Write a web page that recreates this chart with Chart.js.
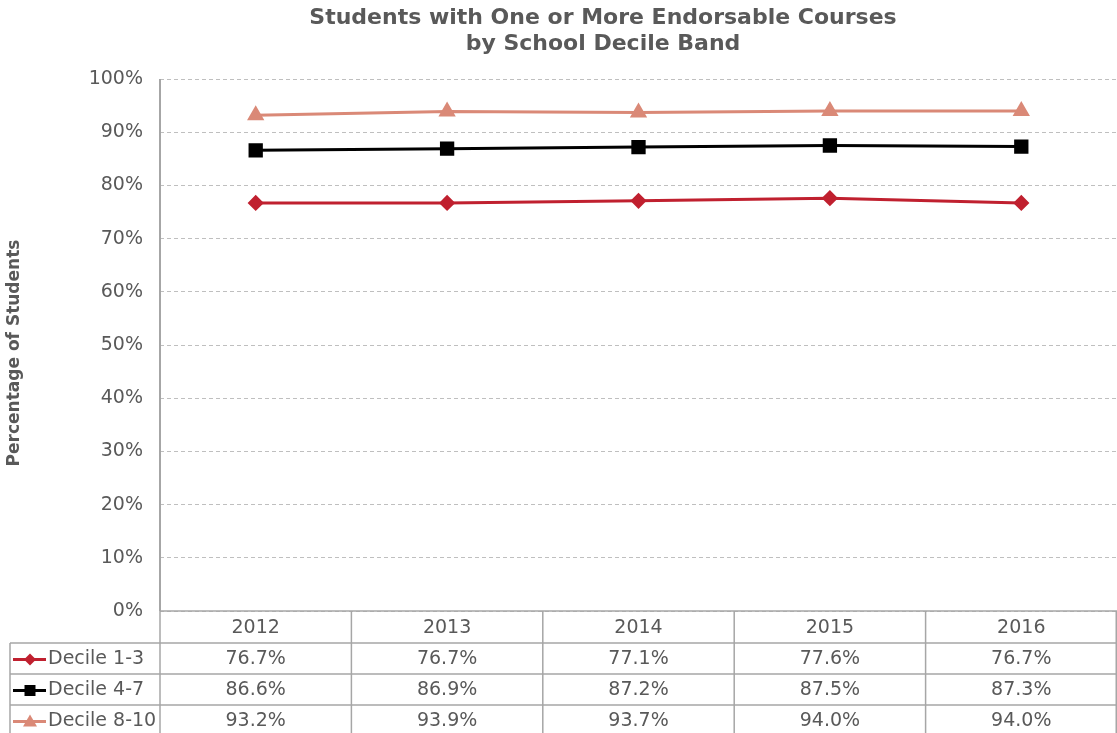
<!DOCTYPE html>
<html>
<head>
<meta charset="utf-8">
<script src="https://cdn.jsdelivr.net/npm/chart.js@4/dist/chart.umd.min.js"></script>
<style>
  body { margin: 0; background: #fff; }
  #wrap { width: 1117px; height: 733px; position: relative; }
</style>
</head>
<body>
<div id="wrap"><canvas id="grafico"></canvas></div>
<script>
var anos = ['2012', '2013', '2014', '2015', '2016'];
var decil13 = [76.7, 76.7, 77.1, 77.6, 76.7];
var decil47 = [86.6, 86.9, 87.2, 87.5, 87.3];
var decil810 = [93.2, 93.9, 93.7, 94.0, 94.0];
var nomesSeries = ['Decile 1-3', 'Decile 4-7', 'Decile 8-10'];
var ticksY = [0, 10, 20, 30, 40, 50, 60, 70, 80, 90, 100];
var titulo = ['Students with One or More Endorsable Courses', 'by School Decile Band'];

var cinza = '#595959';
var borda = '#A6A6A6';
var fonte = 'DejaVu Sans, Verdana, sans-serif';

function marcador(ctx, estilo, x, y, cor) {
  ctx.save();
  ctx.fillStyle = cor;
  ctx.beginPath();
  if (estilo === 'rectRot') {
    ctx.moveTo(x, y - 6); ctx.lineTo(x + 6, y); ctx.lineTo(x, y + 6); ctx.lineTo(x - 6, y);
  } else if (estilo === 'rect') {
    ctx.rect(x - 5.5, y - 5.5, 11, 11);
  } else {
    ctx.moveTo(x, y - 7); ctx.lineTo(x + 7, y + 5); ctx.lineTo(x - 7, y + 5);
  }
  ctx.closePath();
  ctx.fill();
  ctx.restore();
}

// titulo, eixo Y solido e titulo do eixo (desenhados a mao)
var eixoPlugin = {
  id: 'eixo',
  beforeDatasetsDraw: function (chart) {
    var ctx = chart.ctx;
    var area = chart.chartArea;
    ctx.save();
    ctx.strokeStyle = borda;
    ctx.lineWidth = 2;
    ctx.beginPath();
    ctx.moveTo(area.left, area.top);
    ctx.lineTo(area.left, area.bottom);
    ctx.stroke();

    ctx.fillStyle = cinza;
    ctx.textAlign = 'center';
    ctx.textBaseline = 'middle';
    ctx.font = 'bold 22px ' + fonte;
    ctx.fillText(titulo[0], 603, 18);
    ctx.fillText(titulo[1], 603, 44);

    ctx.translate(15, 353);
    ctx.rotate(-Math.PI / 2);
    ctx.font = 'bold 17px ' + fonte;
    ctx.fillText('Percentage of Students', 0, 0);
    ctx.restore();
  }
};

// desenha a tabela de dados embaixo do grafico
var tabelaPlugin = {
  id: 'tabela',
  afterDraw: function (chart) {
    var ctx = chart.ctx;
    var area = chart.chartArea;
    var xs = chart.scales.x;
    var larg = (area.right - area.left) / anos.length;
    var topo = area.bottom;
    var alturas = [32, 31, 31, 31];
    var linhasY = [topo];
    for (var i = 0; i < alturas.length; i++) linhasY.push(linhasY[i] + alturas[i]);

    ctx.save();
    ctx.strokeStyle = borda;
    ctx.lineWidth = 1.5;
    ctx.beginPath();
    ctx.moveTo(area.left, linhasY[0]); ctx.lineTo(area.right, linhasY[0]);
    for (var r = 1; r < linhasY.length; r++) {
      ctx.moveTo(10, linhasY[r]); ctx.lineTo(area.right, linhasY[r]);
    }
    ctx.moveTo(10, linhasY[1]); ctx.lineTo(10, linhasY[4]);
    for (var c = 0; c <= anos.length; c++) {
      var xc = Math.min(area.left + c * larg, area.right - 0.75);
      ctx.moveTo(xc, linhasY[0]); ctx.lineTo(xc, linhasY[4]);
    }
    ctx.stroke();

    ctx.fillStyle = cinza;
    ctx.font = '19px ' + fonte;
    ctx.textAlign = 'center';
    ctx.textBaseline = 'middle';
    for (var k = 0; k < anos.length; k++) {
      ctx.fillText(anos[k], xs.getPixelForValue(k), (linhasY[0] + linhasY[1]) / 2 + 1);
    }
    var dados = [decil13, decil47, decil810];
    chart.data.datasets.forEach(function (ds, s) {
      var ym = (linhasY[s + 1] + linhasY[s + 2]) / 2 + 1;
      for (var k = 0; k < anos.length; k++) {
        ctx.fillStyle = cinza;
        ctx.textAlign = 'center';
        ctx.fillText(dados[s][k].toFixed(1) + '%', xs.getPixelForValue(k), ym);
      }
      ctx.strokeStyle = ds.borderColor;
      ctx.lineWidth = 3;
      ctx.beginPath();
      ctx.moveTo(13, ym); ctx.lineTo(46, ym);
      ctx.stroke();
      marcador(ctx, ds.pointStyle, 30, ym, ds.borderColor);
      ctx.fillStyle = cinza;
      ctx.textAlign = 'left';
      ctx.fillText(nomesSeries[s], 48, ym);
    });
    ctx.restore();
  }
};

var ctx = document.getElementById('grafico').getContext('2d');
var grafico = new Chart(ctx, {
  type: 'line',
  data: {
    labels: anos,
    datasets: [{
      label: nomesSeries[0],
      data: decil13,
      borderColor: '#C0202F',
      backgroundColor: '#C0202F',
      pointStyle: 'rectRot',
      pointRadius: 6,
      borderWidth: 3
    }, {
      label: nomesSeries[1],
      data: decil47,
      borderColor: '#000000',
      backgroundColor: '#000000',
      pointStyle: 'rect',
      pointRadius: 8,
      borderWidth: 3
    }, {
      label: nomesSeries[2],
      data: decil810,
      borderColor: '#DA8977',
      backgroundColor: '#DA8977',
      pointStyle: 'triangle',
      pointRadius: 7,
      borderWidth: 3
    }]
  },
  options: {
    responsive: true,
    maintainAspectRatio: false,
    animation: false,
    layout: { autoPadding: false, padding: { left: 0, right: 0, top: 79, bottom: 122 } },
    plugins: {
      legend: { display: false },
      tooltip: { enabled: false },
      title: { display: false }
    },
    scales: {
      x: {
        display: false,
        offset: true
      },
      y: {
        min: 0,
        max: 100,
        afterFit: function (s) { s.width = 160; },
        afterBuildTicks: function (s) { s.ticks = ticksY.map(function (v) { return { value: v }; }); },
        ticks: {
          color: cinza,
          font: { family: fonte, size: 19 },
          padding: 17,
          callback: function (v) { return v + '%'; }
        },
        grid: {
          color: '#BFBFBF',
          lineWidth: 1,
          drawTicks: false
        },
        border: { display: false, dash: [4, 3] }
      }
    }
  },
  plugins: [eixoPlugin, tabelaPlugin]
});
</script>
</body>
</html>
